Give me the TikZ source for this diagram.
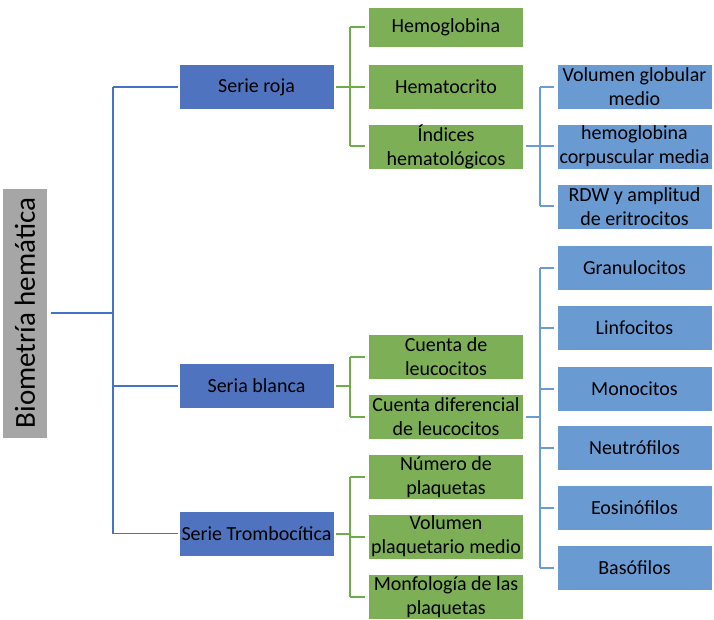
\documentclass[tikz,border=0pt]{standalone}
\usepackage{fontspec}
\setmainfont{Carlito}
\definecolor{dblue}{HTML}{4F73BE}
\definecolor{lgreen}{HTML}{7DAF57}
\definecolor{lblue}{HTML}{6A9AD2}
\definecolor{lgrey}{HTML}{A6A6A6}
\definecolor{cblue}{HTML}{4472C4}
\definecolor{cgreen}{HTML}{70AD47}
\definecolor{clblue}{HTML}{6B9BD5}
\tikzset{
  box/.style={draw=white, line width=0.8pt, minimum width=155pt, minimum height=45pt, align=center, font=\fontsize{20}{24}\selectfont, inner sep=0pt},
  lvone/.style={box, fill=dblue},
  lvtwo/.style={box, fill=lgreen},
  lvthree/.style={box, fill=lblue},
  cone/.style={cblue, line width=1.6pt},
  ctwo/.style={cgreen, line width=2pt},
  cthree/.style={clblue, line width=2pt},
}
\begin{document}
\begin{tikzpicture}[x=1pt,y=-1pt]
\useasboundingbox (0,0) rectangle (714,620);
% root
\node[draw=white, fill=lgrey, minimum width=250pt, minimum height=45pt, rotate=90, font=\fontsize{29}{32}\selectfont, inner sep=0pt] (root) at (25,313) {Biometría hemática};
% level 1
\node[lvone] (roja) at (256.5,87) {Serie roja};
\node[lvone] (blanca) at (256.5,386) {Seria blanca};
\node[lvone] (tromb) at (256.5,533.5) {Serie Trombocítica};
% level 2
\node[lvtwo, minimum height=40pt] (hgb) at (446,27) {Hemoglobina};
\node[lvtwo] (hto) at (446,87) {Hematocrito};
\node[lvtwo] (ind) at (446,146.5) {Índices\\hematológicos};
\node[lvtwo] (cleu) at (446,357) {Cuenta de\\leucocitos};
\node[lvtwo] (cdif) at (446,416.5) {Cuenta diferencial\\de leucocitos};
\node[lvtwo] (nplaq) at (446,477) {Número de\\plaquetas};
\node[lvtwo] (vplaq) at (446,536.5) {Volumen\\plaquetario medio};
\node[lvtwo] (mplaq) at (446,597) {Monfología de las\\plaquetas};
% level 3
\node[lvthree] (vgm) at (634.5,87) {Volumen globular\\medio};
\node[lvthree] (hcm) at (634.5,146.5) {hemoglobina\\corpuscular media};
\node[lvthree] (rdw) at (634.5,206.5) {RDW y amplitud\\de eritrocitos};
\node[lvthree] (gran) at (634.5,268) {Granulocitos};
\node[lvthree] (linf) at (634.5,328) {Linfocitos};
\node[lvthree] (mono) at (634.5,388.5) {Monocitos};
\node[lvthree] (neut) at (634.5,448) {Neutrófilos};
\node[lvthree] (eos) at (634.5,508) {Eosinófilos};
\node[lvthree] (baso) at (634.5,568) {Basófilos};
% connectors level 1
\coordinate (j1) at (113,0);
\draw[cone] ([xshift=3pt]root.south) -- (root.south -| j1);
\draw[cone] (roja.west -| j1) -- (tromb.west -| j1);
\foreach \n in {roja,blanca,tromb}{
  \draw[cone] (\n.west -| j1) -- ([xshift=-1pt]\n.west);
}
% connectors level 2
\coordinate (j2) at (350,0);
\draw[ctwo] ([xshift=2pt]roja.east) -- (roja.east -| j2);
\draw[ctwo] (hgb.west -| j2) -- (ind.west -| j2);
\foreach \n in {hgb,hto,ind}{\draw[ctwo] (\n.west -| j2) -- ([xshift=-3pt]\n.west);}
\draw[ctwo] ([xshift=2pt]blanca.east) -- (blanca.east -| j2);
\draw[ctwo] (cleu.west -| j2) -- (cdif.west -| j2);
\foreach \n in {cleu,cdif}{\draw[ctwo] (\n.west -| j2) -- ([xshift=-3pt]\n.west);}
\draw[ctwo] ([xshift=2pt]tromb.east) -- (tromb.east -| j2);
\draw[ctwo] (nplaq.west -| j2) -- (mplaq.west -| j2);
\foreach \n in {nplaq,vplaq,mplaq}{\draw[ctwo] (\n.west -| j2) -- ([xshift=-3pt]\n.west);}
% connectors level 3
\coordinate (j3) at (540,0);
\draw[cthree] ([xshift=2pt]ind.east) -- (ind.east -| j3);
\draw[cthree] (vgm.west -| j3) -- (rdw.west -| j3);
\foreach \n in {vgm,hcm,rdw}{\draw[cthree] (\n.west -| j3) -- ([xshift=-3pt]\n.west);}
\draw[cthree] ([xshift=2pt]cdif.east) -- (cdif.east -| j3);
\draw[cthree] (gran.west -| j3) -- (baso.west -| j3);
\foreach \n in {gran,linf,mono,neut,eos,baso}{\draw[cthree] (\n.west -| j3) -- ([xshift=-3pt]\n.west);}
\end{tikzpicture}
\end{document}
